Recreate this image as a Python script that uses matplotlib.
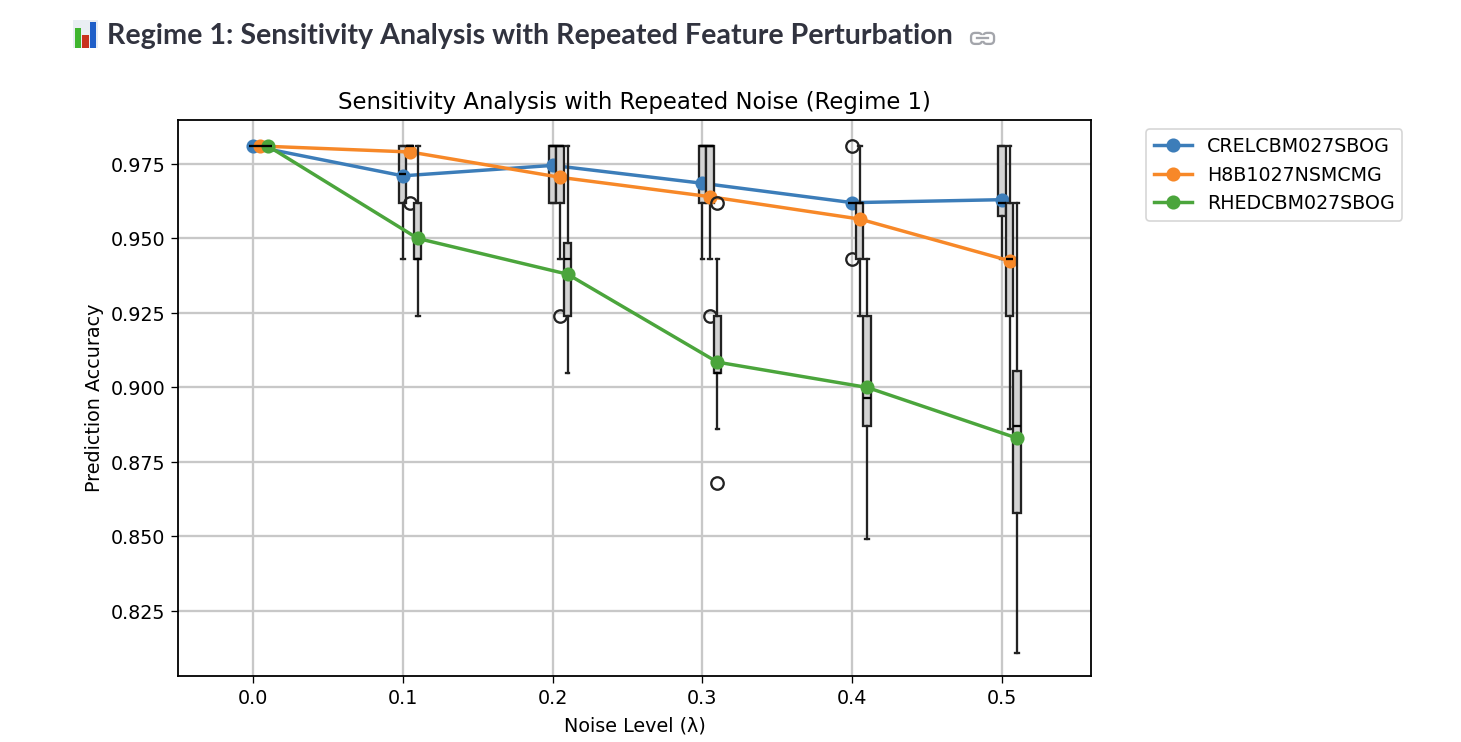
import matplotlib
matplotlib.use('Agg')
import matplotlib.pyplot as plt
from matplotlib.patches import FancyBboxPatch

W, H = 1461, 742
DPI = 118

plt.rcParams['font.size'] = 11.7
plt.rcParams['axes.linewidth'] = 1.1
plt.rcParams['lines.linewidth'] = 2.1
plt.rcParams['lines.markersize'] = 7.6
plt.rcParams['grid.color'] = '#c8c8c8'
plt.rcParams['grid.linewidth'] = 1.4
plt.rcParams['xtick.major.size'] = 4.2
plt.rcParams['ytick.major.size'] = 4.2

noise = [0.0, 0.1, 0.2, 0.3, 0.4, 0.5]
models = ['CRELCBM027SBOG', 'H8B1027NSMCMG', 'RHEDCBM027SBOG']
offsets = [0.0, 0.005, 0.01]
colors = ['#3c7db9', '#f78828', '#4ba53c']

# mean lines
crel_mean = [0.981, 0.971, 0.9745, 0.9685, 0.962, 0.963]
h8b_mean = [0.981, 0.979, 0.9705, 0.964, 0.9565, 0.9425]
rhed_mean = [0.981, 0.950, 0.938, 0.9085, 0.900, 0.883]

# box values per noise level
crel_q1 = [0.981, 0.962, 0.962, 0.962, 0.962, 0.9575]
crel_med = [0.981, 0.9715, 0.981, 0.981, 0.962, 0.962]
crel_q3 = [0.981, 0.981, 0.981, 0.981, 0.962, 0.981]
crel_lo = [0.981, 0.943, 0.962, 0.943, 0.962, 0.943]
crel_hi = [0.981, 0.981, 0.981, 0.981, 0.962, 0.981]
crel_fliers = [[], [], [], [], [0.981, 0.943], []]

h8b_q1 = [0.981, 0.981, 0.962, 0.962, 0.943, 0.924]
h8b_med = [0.981, 0.981, 0.981, 0.981, 0.962, 0.943]
h8b_q3 = [0.981, 0.981, 0.981, 0.981, 0.962, 0.962]
h8b_lo = [0.981, 0.981, 0.943, 0.943, 0.924, 0.886]
h8b_hi = [0.981, 0.981, 0.981, 0.981, 0.981, 0.981]
h8b_fliers = [[], [0.962], [0.924], [0.924], [], []]

rhed_q1 = [0.981, 0.943, 0.924, 0.905, 0.887, 0.858]
rhed_med = [0.981, 0.943, 0.943, 0.905, 0.8965, 0.887]
rhed_q3 = [0.981, 0.962, 0.9485, 0.924, 0.924, 0.9055]
rhed_lo = [0.981, 0.924, 0.905, 0.886, 0.849, 0.811]
rhed_hi = [0.981, 0.981, 0.981, 0.943, 0.943, 0.962]
rhed_fliers = [[], [], [], [0.962, 0.868], [], []]

means = [crel_mean, h8b_mean, rhed_mean]
q1s = [crel_q1, h8b_q1, rhed_q1]
meds = [crel_med, h8b_med, rhed_med]
q3s = [crel_q3, h8b_q3, rhed_q3]
los = [crel_lo, h8b_lo, rhed_lo]
his = [crel_hi, h8b_hi, rhed_hi]
fliers = [crel_fliers, h8b_fliers, rhed_fliers]

fig = plt.figure(figsize=(12.382, 6.289), dpi=DPI)


def px_axes(x0, y0, x1, y1):
    # axes from pixel box measured from the top left
    return fig.add_axes([x0 / W, 1 - y1 / H, (x1 - x0) / W, (y1 - y0) / H])


ax = px_axes(178, 120, 1091, 676)

for i, name in enumerate(models):
    pos = [n + offsets[i] for n in noise]
    stats = []
    for j in range(len(noise)):
        stats.append({'q1': q1s[i][j], 'med': meds[i][j], 'q3': q3s[i][j],
                      'whislo': los[i][j], 'whishi': his[i][j],
                      'fliers': fliers[i][j]})
    ax.bxp(stats, positions=pos, widths=0.005, patch_artist=True,
           boxprops={'facecolor': 'lightgray', 'linewidth': 1.4, 'edgecolor': '#222222'},
           medianprops={'color': 'black', 'linewidth': 1.4},
           whiskerprops={'linewidth': 1.4, 'color': '#222222'},
           capprops={'linewidth': 1.4, 'color': '#222222'},
           flierprops={'markersize': 7.6, 'markeredgewidth': 1.4, 'markeredgecolor': '#222222'},
           manage_ticks=False)
    ax.plot(pos, means[i], marker='o', color=colors[i], label=name)

ax.set_xlim(-0.05, 0.5594)
ax.set_ylim(0.8032, 0.98976)
ax.set_xticks(noise)
ax.set_yticks([0.825, 0.85, 0.875, 0.9, 0.925, 0.95, 0.975])
ax.set_yticklabels(['0.825', '0.850', '0.875', '0.900', '0.925', '0.950', '0.975'])
ax.grid(True)
ax.set_axisbelow(True)
ax.set_xlabel('Noise Level (λ)', labelpad=5.5)
ax.set_ylabel('Prediction Accuracy')
ax.set_title('Sensitivity Analysis with Repeated Noise (Regime 1)', fontsize=13.9, pad=7)
ax.legend(bbox_to_anchor=(1.05, 1), loc='upper left', fontsize=11.6)

# page heading above the chart
fig.text(107 / W, 1 - 36 / H, 'Regime 1: Sensitivity Analysis with Repeated Feature Perturbation',
         family='Lato', weight='bold', fontsize=17.5, color='#31333f',
         ha='left', va='center')

# chart emoji
icon_vals = [60, 40, 77]
icon_colors = ['#3fb52f', '#c8321e', '#1f5fc8']
icon = px_axes(73, 20, 98, 48)
icon.set_facecolor('#e9eef3')
icon.bar([0, 1, 2], icon_vals, width=0.8, color=icon_colors)
icon.set_xlim(-0.6, 2.6)
icon.set_ylim(0, 84)
icon.set_xticks([])
icon.set_yticks([])
for s in icon.spines.values():
    s.set_visible(False)

# link icon
link = px_axes(968, 29, 997, 48)
link.set_xlim(968, 997)
link.set_ylim(48, 29)
link.axis('off')
for x0 in (971, 983):
    link.add_patch(FancyBboxPatch((x0 + 3, 36), 5, 5, boxstyle='round,pad=3,rounding_size=4',
                                  fill=False, ec='#a3a5ab', lw=1.4))
link.plot([977, 988], [38.5, 38.5], color='white', lw=3.5)
link.plot([977, 988], [38.5, 38.5], color='#a3a5ab', lw=1.4)

fig.savefig('out.png', dpi=DPI)
